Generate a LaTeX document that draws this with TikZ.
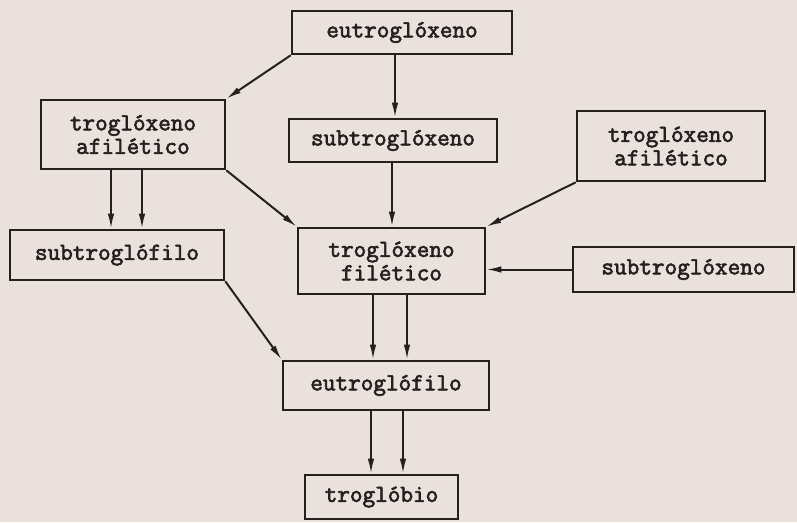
\documentclass[tikz,border=0pt]{standalone}
\usepackage{fontspec}
\newfontfamily\tw{Latin Modern Mono}[FakeBold=2.6]
\usetikzlibrary{arrows.meta}
\definecolor{paper}{RGB}{234,225,221}
\definecolor{ink}{RGB}{36,32,32}
\tikzset{
  box/.style={draw=ink, line width=2.6pt, inner sep=0pt, text=ink,
    font=\tw\fontsize{24.5}{23.5}\selectfont, align=center},
  arr/.style={draw=ink, line width=2pt, -{Latex[length=15pt,width=6.5pt]}}
}
\begin{document}
\begin{tikzpicture}[x=1pt,y=-1pt]
\fill[paper] (0,0) rectangle (797,522);
\useasboundingbox (0,0) rectangle (797,522);
\node[box, minimum width=220pt, minimum height=43pt] (eutroxen) at (402,32.5) {eutroglóxeno};
\node[box, minimum width=184pt, minimum height=69pt] (afilL) at (133,134.5) {troglóxeno\\afilético };
\node[box, minimum width=208pt, minimum height=43pt] (subxenM) at (393,140.5) {subtroglóxeno};
\node[box, minimum width=188pt, minimum height=70pt] (afilR) at (671,146) {troglóxeno\\afilético };
\node[box, minimum width=214pt, minimum height=50pt] (subfilo) at (117,255) {subtroglófilo};
\node[box, minimum width=187pt, minimum height=66pt] (filet) at (391.5,261) {troglóxeno\\filético};
\node[box, minimum width=221pt, minimum height=45pt] (subxenR) at (683.5,269.5) {subtroglóxeno};
\node[box, minimum width=206pt, minimum height=49pt] (eutrofilo) at (386,385.5) {eutroglófilo};
\node[box, minimum width=153pt, minimum height=44pt] (troglobio) at (381.5,497) {troglóbio};
\coordinate (xa) at (395,0);
\coordinate (xb) at (111,0);
\coordinate (xc) at (142,0);
\coordinate (xd) at (392,0);
\coordinate (xe) at (373,0);
\coordinate (xf) at (407,0);
\coordinate (xg) at (371,0);
\coordinate (xh) at (403,0);
\draw[arr] (eutroxen.south west) -- (afilL.north east);
\draw[arr] (xa |- eutroxen.south) -- (xa |- subxenM.north);
\draw[arr] (xb |- afilL.south) -- (xb |- subfilo.north);
\draw[arr] (xc |- afilL.south) -- (xc |- subfilo.north);
\draw[arr] (afilL.south east) -- (filet.north west);
\draw[arr] (xd |- subxenM.south) -- (xd |- filet.north);
\draw[arr] (afilR.south west) -- (filet.north east);
\draw[arr] (subxenR.west) -- (subxenR.west -| filet.east);
\draw[arr] (subfilo.south east) -- (eutrofilo.north west);
\draw[arr] (xe |- filet.south) -- (xe |- eutrofilo.north);
\draw[arr] (xf |- filet.south) -- (xf |- eutrofilo.north);
\draw[arr] (xg |- eutrofilo.south) -- (xg |- troglobio.north);
\draw[arr] (xh |- eutrofilo.south) -- (xh |- troglobio.north);
\end{tikzpicture}
\end{document}
